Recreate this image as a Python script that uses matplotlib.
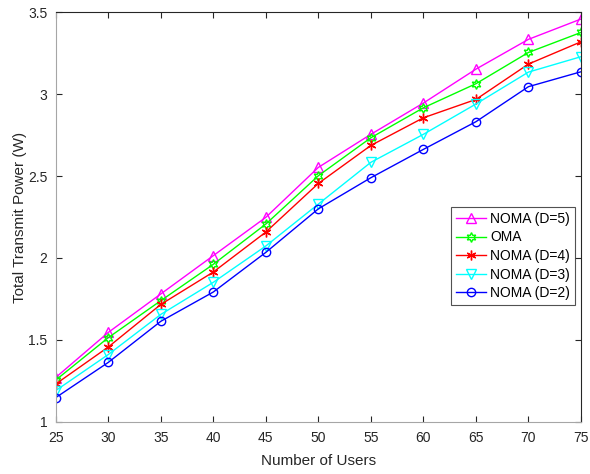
import matplotlib as mpl
from matplotlib import pyplot as plt

# Шрифт в стиле MATLAB
mpl.rcParams['font.family'] = ['Liberation Sans', 'DejaVu Sans']
mpl.rcParams['font.size'] = 10

# Данные
users = [25, 30, 35, 40, 45, 50, 55, 60, 65, 70, 75]
noma_d5 = [1.27, 1.545, 1.78, 2.014, 2.248, 2.553, 2.755, 2.946, 3.153, 3.335, 3.459]
oma = [1.254, 1.513, 1.739, 1.961, 2.207, 2.502, 2.734, 2.917, 3.064, 3.255, 3.377]
noma_d4 = [1.23, 1.456, 1.716, 1.914, 2.158, 2.455, 2.687, 2.856, 2.968, 3.184, 3.32]
noma_d3 = [1.19, 1.41, 1.655, 1.851, 2.073, 2.329, 2.584, 2.755, 2.94, 3.135, 3.229]
noma_d2 = [1.147, 1.362, 1.613, 1.792, 2.034, 2.30, 2.49, 2.663, 2.832, 3.046, 3.137]

x_ticks = [25, 30, 35, 40, 45, 50, 55, 60, 65, 70, 75]
y_ticks = [1, 1.5, 2, 2.5, 3, 3.5]

fig = plt.figure(figsize=(5.9, 4.74), dpi=100)
ax = fig.add_axes([0.0944, 0.1103, 0.8903, 0.8637])

ax.plot(users, noma_d5, color='#ff00ff', marker='^', mfc='none', ms=7, lw=1, label='NOMA (D=5)')
ax.plot(users, oma, color='#00ff00', marker=(6, 1, 0), mfc='none', ms=7, lw=1, label='OMA')
ax.plot(users, noma_d4, color='#ff0000', marker=(6, 2, 0), ms=7, lw=1, label='NOMA (D=4)')
ax.plot(users, noma_d3, color='#00ffff', marker='v', mfc='none', ms=7, lw=1, label='NOMA (D=3)')
ax.plot(users, noma_d2, color='#0000ff', marker='o', mfc='none', ms=6, lw=1, label='NOMA (D=2)')

ax.set_xlim(25, 75)
ax.set_ylim(1, 3.5)
ax.set_xticks(x_ticks)
ax.set_yticks(y_ticks)
ax.set_yticklabels(['1', '1.5', '2', '2.5', '3', '3.5'])

ax.tick_params(direction='in', top=True, right=True, colors='#262626', length=4)
ax.tick_params(axis='x', pad=7)
ax.tick_params(axis='y', pad=6)
for side in ['top', 'right']:
    ax.spines[side].set_color('#262626')
for side in ['left', 'bottom']:
    ax.spines[side].set_color('#a6a6a6')

ax.set_xlabel('Number of Users', fontsize=11, color='#262626', labelpad=6)
ax.set_ylabel('Total Transmit Power (W)', fontsize=11, color='#262626', labelpad=1)

leg = ax.legend(loc='upper right', bbox_to_anchor=(0.9886, 0.5244), borderaxespad=0,
                fancybox=False, edgecolor='#262626', fontsize=10, handlelength=2.2,
                labelspacing=0.33, borderpad=0.35, handletextpad=0.3)
leg.get_frame().set_linewidth(0.8)

plt.savefig('out.png', dpi=100)
